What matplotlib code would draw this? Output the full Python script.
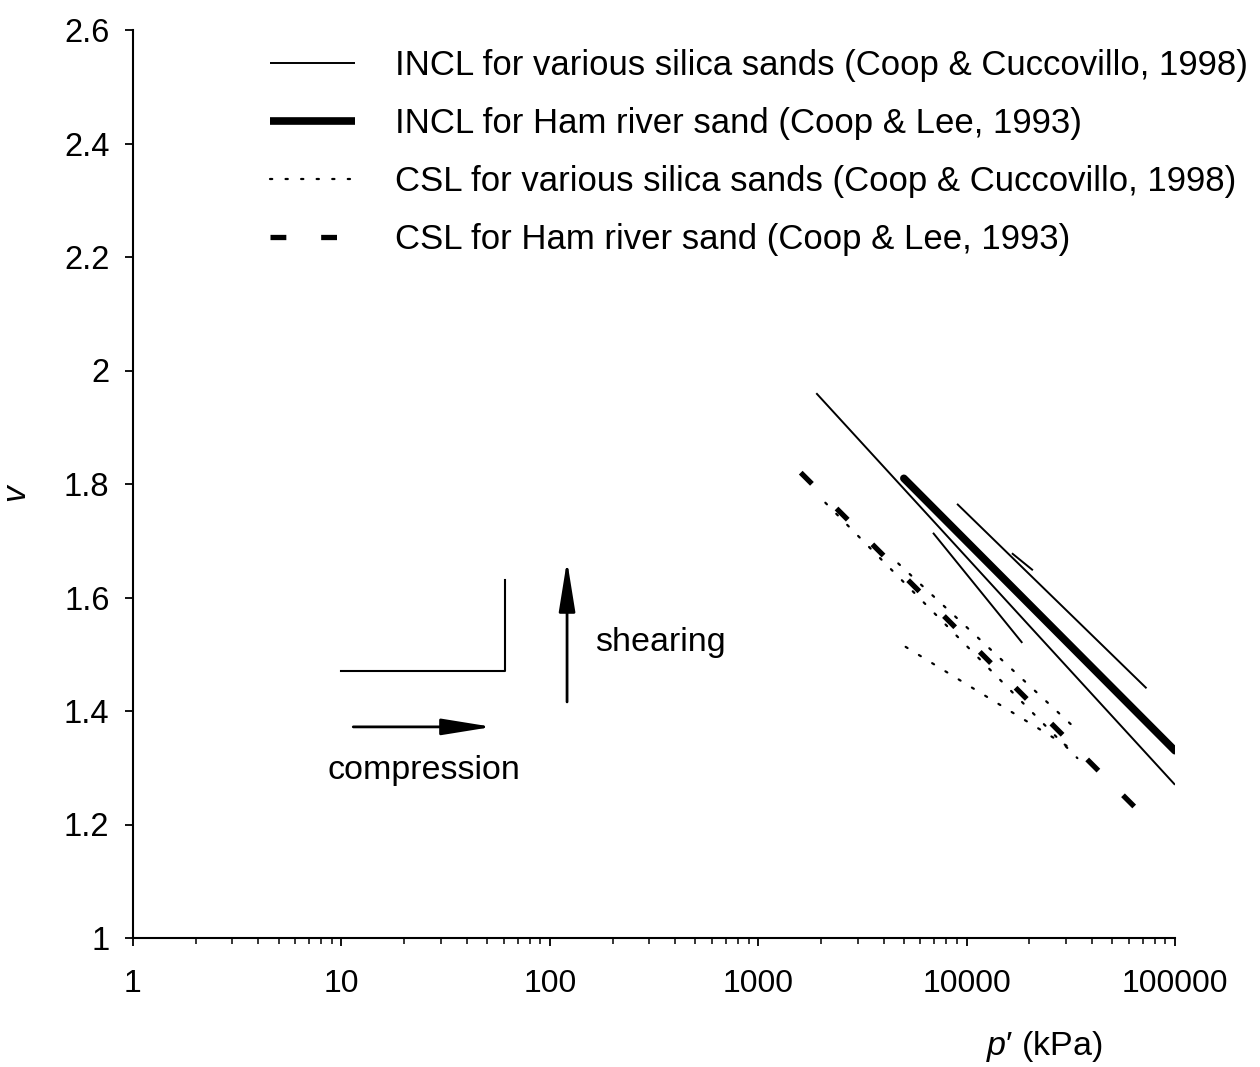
import matplotlib
matplotlib.use("Agg")
import matplotlib.pyplot as plt
from matplotlib.lines import Line2D
from matplotlib.ticker import FixedLocator, FuncFormatter, LogLocator

plt.rcParams["font.family"] = ["Liberation Sans", "DejaVu Sans"]
plt.rcParams["mathtext.fontset"] = "custom"
plt.rcParams["mathtext.rm"] = "Liberation Sans"
plt.rcParams["mathtext.it"] = "Liberation Sans:italic"

# INCL, various silica sands (several thin lines)
incl_silica_x = [[1900, 100000], [9000, 73000], [16500, 20800], [6900, 18500]]
incl_silica_v = [[1.96, 1.27], [1.765, 1.44], [1.678, 1.648], [1.714, 1.52]]

# INCL, Ham river sand
incl_ham_x = [5000, 100000]
incl_ham_v = [1.81, 1.33]

# CSL, various silica sands (dotted)
csl_silica_x = [[2100, 34000], [4700, 32000], [5100, 33000]]
csl_silica_v = [[1.767, 1.317], [1.66, 1.375], [1.513, 1.33]]

# CSL, Ham river sand
csl_ham_x = [1600, 73000]
csl_ham_v = [1.82, 1.21]

# schematic compression / shearing path
path_x = [10, 61, 61]
path_v = [1.47, 1.47, 1.63]

labels = [
    "INCL for various silica sands (Coop & Cuccovillo, 1998)",
    "INCL for Ham river sand (Coop & Lee, 1993)",
    "CSL for various silica sands (Coop & Cuccovillo, 1998)",
    "CSL for Ham river sand (Coop & Lee, 1993)",
]

thin = dict(color="black", lw=1.4, solid_capstyle="butt")
thick = dict(color="black", lw=5.5, solid_capstyle="round")
dotted = dict(color="black", lw=1.6, dashes=(1.0, 6.0), dash_capstyle="round")
dashed = dict(color="black", lw=3.8, dashes=(3.0, 6.6), dash_capstyle="butt")

fig = plt.figure(figsize=(12.6, 10.67), dpi=100)
ax = fig.add_axes([133 / 1260, 129 / 1067, 1042 / 1260, 908 / 1067])

for xs, vs in zip(incl_silica_x, incl_silica_v):
    ax.plot(xs, vs, **thin)
ax.plot(incl_ham_x, incl_ham_v, **thick)
for xs, vs in zip(csl_silica_x, csl_silica_v):
    ax.plot(xs, vs, **dotted)
ax.plot(csl_ham_x, csl_ham_v, **dashed)

ax.plot(path_x, path_v, color="black", lw=1.5)

arrow = dict(arrowstyle="-|>,head_length=3.1,head_width=0.5", color="black",
             lw=2.0, mutation_scale=10, shrinkA=0, shrinkB=0)
ax.annotate("", xy=(53, 1.372), xytext=(11.4, 1.372), arrowprops=arrow)
ax.annotate("", xy=(121, 1.665), xytext=(121, 1.416), arrowprops=arrow)
ax.text(25, 1.296, "compression", fontsize=24.5, ha="center", va="center")
ax.text(165, 1.52, "shearing", fontsize=24.5, ha="left", va="center")

handles = [
    Line2D([], [], **thin),
    Line2D([], [], color="black", lw=5.5, solid_capstyle="butt"),
    Line2D([], [], **dotted),
    Line2D([], [], **dashed),
]
ax.legend(handles, labels, loc="upper left", bbox_to_anchor=(270 / 1260, 1 - 49 / 1067),
          bbox_transform=fig.transFigure, frameon=False, fontsize=25,
          handlelength=2.45, handletextpad=1.15, labelspacing=0.72,
          borderpad=0, borderaxespad=0)

ax.set_xscale("log")
ax.set_xlim(1, 100000)
ax.set_ylim(1, 2.6)
ax.spines["top"].set_visible(False)
ax.spines["right"].set_visible(False)
ax.spines["left"].set_linewidth(1.5)
ax.spines["bottom"].set_linewidth(1.5)

ax.xaxis.set_major_locator(FixedLocator([1, 10, 100, 1000, 10000, 100000]))
ax.xaxis.set_minor_locator(LogLocator(base=10, subs=range(2, 10)))
ax.xaxis.set_major_formatter(FuncFormatter(lambda v, p: "%d" % round(v)))
ax.yaxis.set_major_locator(FixedLocator([1, 1.2, 1.4, 1.6, 1.8, 2, 2.2, 2.4, 2.6]))
ax.yaxis.set_major_formatter(FuncFormatter(lambda v, p: "%g" % round(v, 1)))
ax.tick_params(axis="x", which="major", direction="out", length=6, width=1.3,
               labelsize=23, pad=16)
ax.tick_params(axis="x", which="minor", direction="out", length=4, width=1.1)
ax.tick_params(axis="y", which="major", direction="out", length=6, width=1.3,
               labelsize=23.5, pad=11)

ax.set_xlabel("$p$\u2032 (kPa)", fontsize=24.5)
ax.xaxis.set_label_coords(0.875, -0.1)
ax.set_ylabel("v", fontsize=24, style="italic")
ax.yaxis.set_label_coords(-0.098, 0.49)

fig.savefig("out.png", dpi=100)
